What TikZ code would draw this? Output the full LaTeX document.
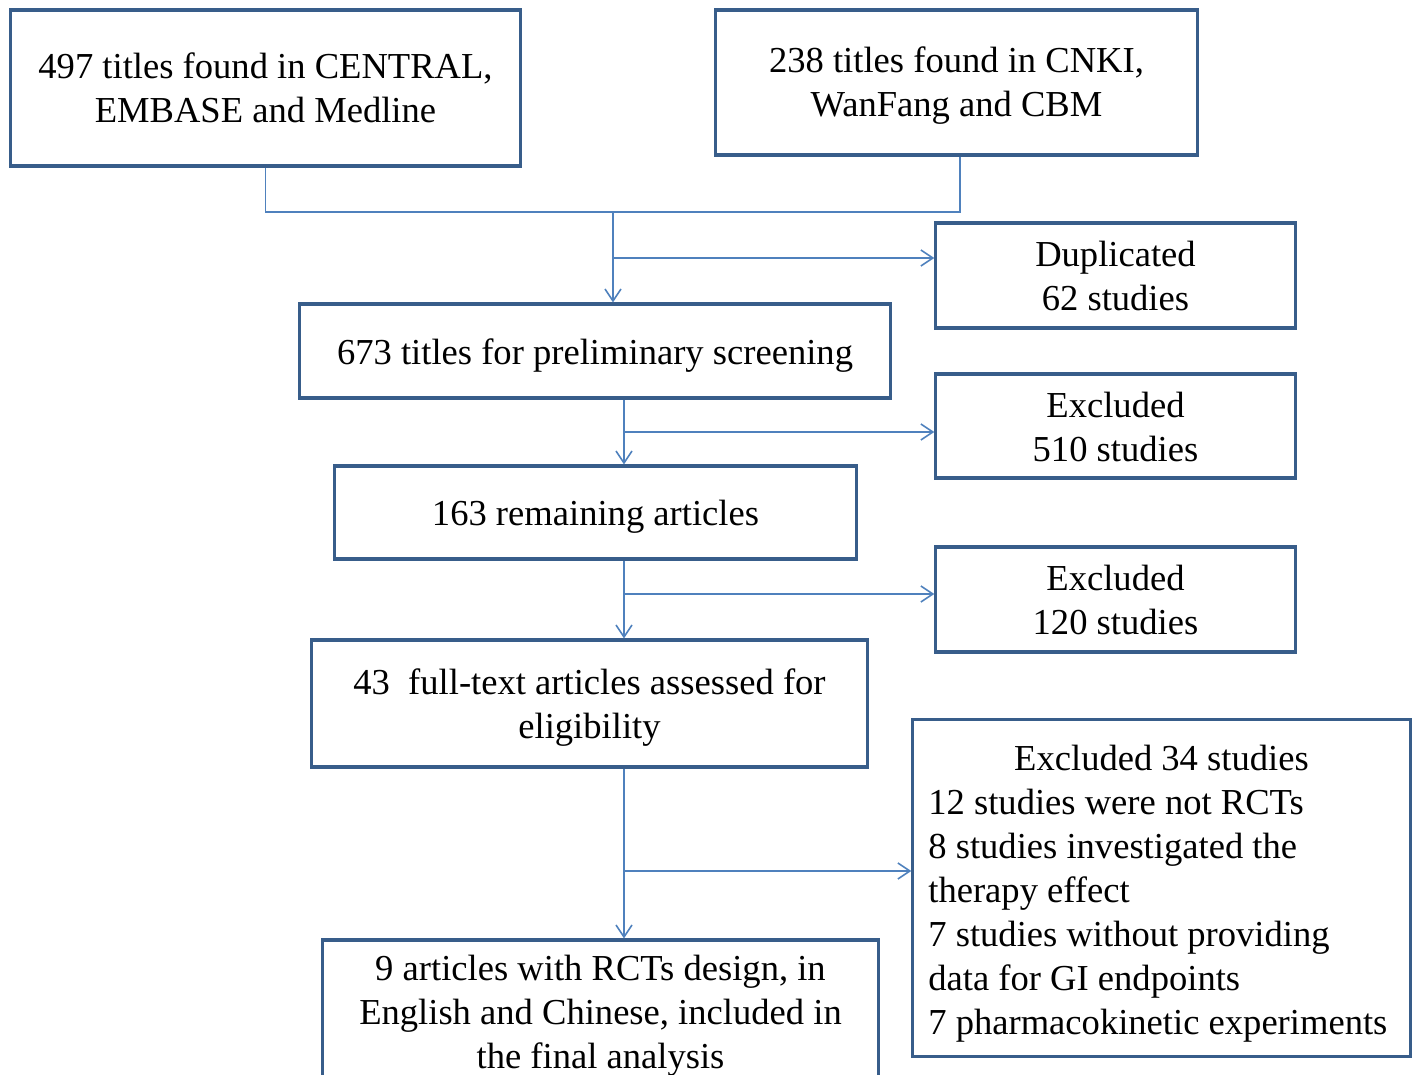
\documentclass[tikz,border=0pt]{standalone}
\usepackage{fontspec}
\setmainfont{Liberation Serif}
\usetikzlibrary{arrows.meta}
\definecolor{boxblue}{HTML}{385D8A}
\definecolor{lineblue}{HTML}{4F81BD}
\newcommand{\firstup}[1]{\rule{0pt}{#1}}
\tikzset{
  box/.style={draw=boxblue, line width=0.9pt, inner sep=0pt, align=center,
    font=\fontsize{10.4}{12.5}\selectfont},
  flow/.style={draw=lineblue, line width=0.45pt,
    -{Straight Barb[length=1.2mm,width=1.6mm]}},
  link/.style={draw=lineblue, line width=0.45pt}
}

\begin{document}
\begin{tikzpicture}[x=0.01cm, y=-0.01cm]
		%%%%% START %%%%%
		\useasboundingbox (0,0) rectangle (1414,1075);
		
		\node[box, minimum width=5.09cm, minimum height=1.56cm] (titlesA) at (265.5, 88)
			{497 titles found in CENTRAL,\\EMBASE and Medline};
		\node[box, minimum width=4.81cm, minimum height=1.45cm] (titlesB) at (956.5, 82.5)
			{\firstup{9.1pt}238 titles found in CNKI,\\WanFang and CBM};
		
		\node[box, minimum width=3.59cm, minimum height=1.05cm] (dup) at (1115.5, 275.5)
			{\firstup{7.6pt}Duplicated\\62 studies};
		\node[box, minimum width=5.90cm, minimum height=0.94cm] (screen) at (595, 351)
			{\firstup{9.9pt}673 titles for preliminary screening};
		
		\node[box, minimum width=3.59cm, minimum height=1.04cm] (excl1) at (1115.5, 426)
			{\firstup{7.6pt}Excluded\\510 studies};
		\node[box, minimum width=5.21cm, minimum height=0.93cm] (remain) at (595.5, 512.5)
			{\firstup{9.9pt}163 remaining articles};
		
		\node[box, minimum width=3.59cm, minimum height=1.05cm] (excl2) at (1115.5, 599.5)
			{\firstup{7.6pt}Excluded\\120 studies};
		\node[box, minimum width=5.55cm, minimum height=1.27cm] (full) at (589.5, 703.5)
			{\firstup{9.9pt}43\ \ full-text articles assessed for\\eligibility};
		
		\node[box, align=left, minimum width=4.97cm, minimum height=3.36cm] (excl34) at (1161.5, 888)
			{\makebox[4.66cm]{\firstup{10.5pt}Excluded 34 studies}\\
			 12 studies were not RCTs\\
			 8 studies investigated the\\
			 therapy effect\\
			 7 studies without providing\\
			 data for GI endpoints\\
			 7 pharmacokinetic experiments};
		\node[box, minimum width=5.55cm, minimum height=1.44cm] (final) at (600.5, 1012)
			{\firstup{9.4pt}9 articles with RCTs design, in\\English and Chinese, included in\\the final analysis};
		
		% joins and branches
		\coordinate (j0) at (613, 212);
		\coordinate (j1) at (960, 212);
		\coordinate (b0) at (613, 258);
		\coordinate (b1) at (624, 432);
		\coordinate (b2) at (624, 594);
		\coordinate (b3) at (624, 871);
		
		\draw[link] (titlesA.south) |- (j0) -- (j1) -- (j1 |- titlesB.south);
		\draw[flow] (j0) -- (j0 |- screen.north);
		\draw[flow] (b0) -- (b0 -| dup.west);
		
		\draw[flow] (b1 |- screen.south) -- (b1 |- remain.north);
		\draw[flow] (b1) -- (b1 -| excl1.west);
		
		\draw[flow] (b2 |- remain.south) -- (b2 |- full.north);
		\draw[flow] (b2) -- (b2 -| excl2.west);
		
		\draw[flow] (b3 |- full.south) -- (b3 |- final.north);
		\draw[flow] (b3) -- (b3 -| excl34.west);
		
		%%%%% END %%%%%
\end{tikzpicture}
\end{document}
